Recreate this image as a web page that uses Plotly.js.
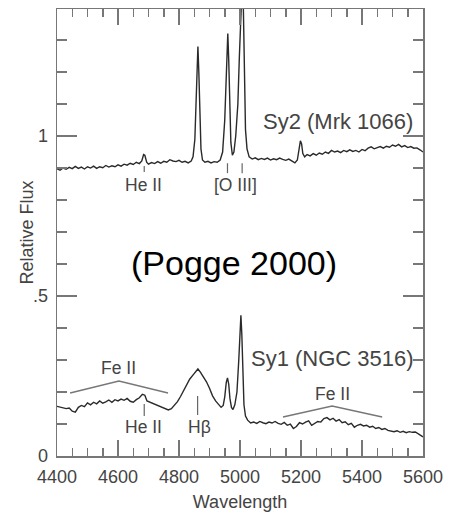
<!DOCTYPE html>
<html>
<head>
<meta charset="utf-8">
<script src="https://cdn.plot.ly/plotly-3.0.1.min.js"></script>
<style>html,body{margin:0;padding:0;background:#fff;}#chart{width:452px;height:515px;}</style>
</head>
<body>
<div id="chart"></div>
<script>
// Sy2 (Mrk 1066) spectrum
const sy2Wave = [4400,4410,4420,4430,4440,4450,4460,4470,4480,4490,4500,4510,4520,4530,4540,4550,4560,4570,4580,4590,4600,4610,4620,4630,4640,4650,4660,4670,4678,4684,4688,4694,4700,4710,4720,4730,4740,4750,4760,4770,4780,4790,4800,4810,4820,4830,4840,4846,4852,4856,4859,4862,4865,4868,4872,4877,4885,4895,4905,4915,4925,4935,4943,4950,4954,4957,4960,4963,4966,4970,4975,4980,4986,4993,4998,5002,5005,5008,5011,5014,5018,5023,5030,5040,5050,5060,5070,5080,5090,5100,5110,5120,5130,5140,5150,5160,5170,5180,5188,5194,5198,5202,5206,5212,5220,5230,5240,5250,5260,5270,5280,5290,5300,5310,5320,5330,5340,5350,5360,5370,5380,5390,5400,5410,5420,5430,5440,5450,5460,5470,5480,5490,5500,5510,5520,5530,5540,5550,5560,5570,5580,5590,5600];
const sy2Flux = [0.898,0.893,0.900,0.896,0.902,0.898,0.905,0.899,0.903,0.897,0.904,0.900,0.906,0.899,0.904,0.901,0.908,0.903,0.907,0.904,0.910,0.906,0.912,0.909,0.915,0.911,0.918,0.914,0.922,0.942,0.940,0.918,0.912,0.917,0.914,0.920,0.915,0.921,0.918,0.926,0.922,0.920,0.924,0.918,0.921,0.916,0.922,0.935,0.990,1.100,1.220,1.280,1.200,1.050,0.960,0.925,0.918,0.921,0.916,0.920,0.918,0.925,0.950,1.050,1.180,1.280,1.320,1.240,1.080,0.980,0.940,0.950,1.000,1.100,1.250,1.400,1.500,1.500,1.400,1.200,1.020,0.960,0.935,0.928,0.932,0.926,0.930,0.927,0.931,0.925,0.929,0.926,0.931,0.927,0.924,0.928,0.921,0.916,0.925,0.955,0.985,0.975,0.945,0.935,0.942,0.938,0.945,0.940,0.947,0.943,0.950,0.946,0.955,0.950,0.953,0.948,0.955,0.951,0.957,0.952,0.955,0.950,0.958,0.954,0.962,0.966,0.960,0.964,0.967,0.962,0.968,0.965,0.972,0.968,0.974,0.966,0.970,0.964,0.967,0.962,0.963,0.957,0.950];

// Sy1 (NGC 3516) spectrum
const sy1Wave = [4400,4410,4420,4430,4440,4450,4460,4470,4480,4490,4500,4510,4520,4530,4540,4550,4560,4570,4580,4590,4600,4610,4620,4630,4640,4650,4660,4670,4680,4688,4695,4705,4715,4725,4735,4745,4755,4765,4775,4785,4795,4805,4815,4825,4835,4845,4855,4862,4870,4880,4890,4900,4910,4920,4930,4938,4945,4950,4955,4959,4963,4967,4972,4977,4983,4990,4996,5000,5003,5006,5009,5013,5018,5025,5035,5045,5055,5065,5075,5085,5095,5105,5115,5125,5135,5145,5155,5165,5175,5185,5195,5205,5215,5225,5235,5245,5255,5265,5275,5285,5295,5305,5315,5325,5335,5345,5355,5365,5375,5385,5395,5405,5415,5425,5435,5445,5455,5465,5475,5485,5495,5505,5515,5525,5535,5545,5555,5565,5575,5585,5595,5600];
const sy1Flux = [0.155,0.152,0.150,0.148,0.150,0.140,0.137,0.152,0.158,0.154,0.166,0.160,0.168,0.163,0.172,0.165,0.169,0.175,0.168,0.176,0.172,0.178,0.174,0.180,0.171,0.168,0.176,0.182,0.193,0.190,0.172,0.168,0.166,0.162,0.158,0.153,0.150,0.144,0.148,0.158,0.170,0.186,0.205,0.225,0.240,0.252,0.266,0.272,0.262,0.248,0.232,0.212,0.188,0.172,0.160,0.152,0.158,0.185,0.230,0.244,0.225,0.180,0.152,0.145,0.160,0.200,0.300,0.400,0.440,0.380,0.250,0.160,0.125,0.112,0.103,0.106,0.102,0.108,0.104,0.101,0.106,0.103,0.108,0.102,0.099,0.105,0.096,0.100,0.086,0.092,0.104,0.100,0.106,0.110,0.096,0.102,0.108,0.106,0.117,0.120,0.113,0.118,0.109,0.114,0.104,0.107,0.098,0.102,0.090,0.096,0.099,0.094,0.096,0.090,0.093,0.086,0.089,0.083,0.086,0.080,0.078,0.076,0.079,0.074,0.077,0.073,0.076,0.074,0.075,0.070,0.064,0.060];

// Tick labels
const yTickVals = [0, 0.5, 1];
const yTickText = ["0", ".5", "1"];
const xTickVals = [4400, 4600, 4800, 5000, 5200, 5400, 5600];

// Line identifications (rest wavelengths)
const heII = 4686;
const hBeta = 4861;
const oIII = [4959, 5007];
const feIILeft = [4443, 4603, 4764];
const feIIRight = [5141, 5302, 5466];

const axisGray = '#777';
const labelGray = '#444';
const FONT = '"Liberation Sans", Arial, Helvetica, sans-serif';

const traces = [
  {x: sy2Wave, y: sy2Flux, mode: 'lines', line: {color: '#2a2a2a', width: 1.4}, hoverinfo: 'skip'},
  {x: sy1Wave, y: sy1Flux, mode: 'lines', line: {color: '#2a2a2a', width: 1.4}, hoverinfo: 'skip'}
];

const mk = (x, y0, y1) => ({type: 'line', xref: 'x', yref: 'y', x0: x, x1: x, y0: y0, y1: y1, line: {color: '#666', width: 1.2}});
const bracket = (xs, yEnd, yMid) => ({type: 'path', xref: 'x', yref: 'y',
  path: `M ${xs[0]} ${yEnd} L ${xs[1]} ${yMid} L ${xs[2]} ${yEnd}`, line: {color: '#777', width: 1.5}});

const shapes = [
  mk(heII, 0.8875, 0.906),
  mk(oIII[0], 0.884, 0.915),
  mk(oIII[1], 0.884, 0.915),
  mk(heII, 0.125, 0.1625),
  mk(hBeta, 0.128, 0.1875),
  bracket(feIILeft, 0.197, 0.234),
  bracket(feIIRight, 0.122, 0.156)
];

const ann = (x, y, text, size, color) => ({x: x, y: y, xref: 'x', yref: 'y', text: text, showarrow: false,
  xanchor: 'center', yanchor: 'middle', font: {family: FONT, size: size, color: color}});

const annotations = [
  ann(5321, 1.044, 'Sy2 (Mrk 1066)', 22, labelGray),
  ann(5303, 0.306, 'Sy1 (NGC 3516)', 22, labelGray),
  ann(4682, 0.847, 'He II', 17.5, labelGray),
  ann(4984, 0.847, '[O III]', 17.5, labelGray),
  ann(4980, 0.603, '(Pogge 2000)', 34, '#000'),
  ann(4603, 0.275, 'Fe II', 17.5, labelGray),
  ann(4682, 0.09, 'He II', 17.5, labelGray),
  ann(4866, 0.09, 'Hβ', 17.5, labelGray),
  ann(5302, 0.194, 'Fe II', 17.5, labelGray),
  // y-axis title (x given as paper fraction of the plot width)
  {x: (26 - 57) / 366, y: 0.5, xref: 'paper', yref: 'y domain', xanchor: 'center', yanchor: 'middle',
   text: 'Relative Flux', textangle: -90, showarrow: false,
   font: {family: FONT, size: 18, color: labelGray}}
];

const layout = {
  width: 452, height: 515,
  margin: {l: 57, r: 29, t: 9, b: 59, pad: 0},
  paper_bgcolor: '#fff', plot_bgcolor: '#fff',
  showlegend: false,
  font: {family: FONT, color: labelGray, size: 18},
  xaxis: {
    range: [4400, 5600], tickmode: 'array', tickvals: xTickVals,
    ticks: 'inside', ticklen: 16, tickwidth: 1.5, tickcolor: axisGray,
    ticklabelstandoff: 4,
    minor: {dtick: 50, ticks: 'inside', ticklen: 8, tickwidth: 1.5, tickcolor: axisGray, showgrid: false},
    showline: true, linecolor: axisGray, linewidth: 1.5, mirror: 'ticks',
    showgrid: false, zeroline: false,
    tickfont: {family: FONT, size: 18, color: labelGray},
    title: {text: 'Wavelength', font: {family: FONT, size: 18, color: labelGray}, standoff: 9}
  },
  yaxis: {
    range: [0, 1.397], tickmode: 'array', tickvals: yTickVals, ticktext: yTickText,
    ticks: 'inside', ticklen: 20, tickwidth: 1.5, tickcolor: axisGray,
    ticklabelstandoff: 4,
    minor: {dtick: 0.1, tick0: 0, ticks: 'inside', ticklen: 10, tickwidth: 1.5, tickcolor: axisGray, showgrid: false},
    showline: true, linecolor: axisGray, linewidth: 1.5, mirror: 'ticks',
    showgrid: false, zeroline: false,
    tickfont: {family: FONT, size: 18, color: labelGray}
  },
  shapes: shapes,
  annotations: annotations
};

Plotly.newPlot('chart', traces, layout, {staticPlot: true, displayModeBar: false});
</script>
</body>
</html>
